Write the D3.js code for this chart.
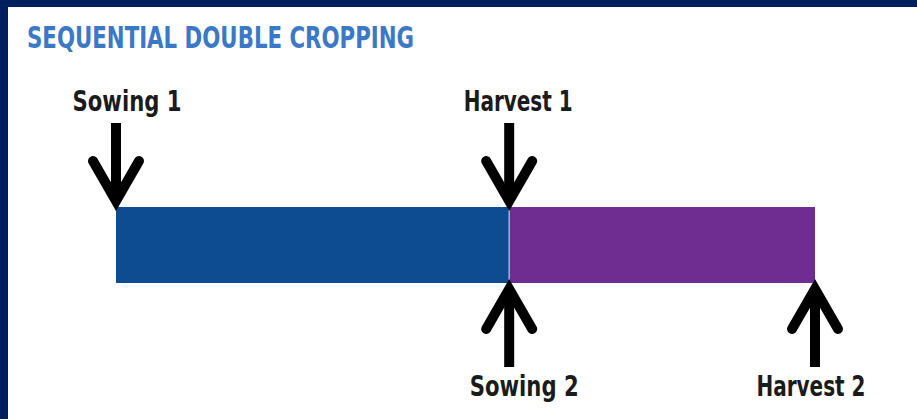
<!DOCTYPE html>
<html>
  <head>
    <meta charset="utf-8">
    <title>Sequential double cropping</title>
    <script src="https://d3js.org/d3.v7.min.js"></script>
    <style>
      body { margin: 0; background: #ffffff; }
      .label {
        font-family: "Liberation Sans Narrow", "DejaVu Sans Condensed", "Roboto", sans-serif;
        font-weight: bold;
        fill: #1b1b1b;
      }
      .title {
        font-family: "Liberation Sans Narrow", "DejaVu Sans Condensed", "Roboto", sans-serif;
        font-weight: bold;
        fill: #3b78c6;
      }
      .arrow {
        fill: none;
        stroke: #000;
        stroke-width: 10px;
      }
    </style>
  </head>
  <body>
    <script>
      // ====================================
      // data: weeks along the season
      // ====================================
      const crops = ["Crop 1", "Crop 2"];
      const cropStart = [0, 18];
      const cropEnd = [18, 32];

      const events = ["Sowing 1", "Harvest 1", "Sowing 2", "Harvest 2"];
      const eventWeek = [0, 18, 18, 32];
      const eventSide = ["top", "top", "bottom", "bottom"];

      const titleText = "SEQUENTIAL DOUBLE CROPPING";

      // styling only
      const cropColors = ["#0e4c92", "#6f2c91"];
      const labelNudge = [11, 9, 15, -4];

      const width = 917;
      const height = 419;

      const svg = d3.select("body")
        .append("svg")
          .attr("width", width)
          .attr("height", height);

      // navy frame on top and left
      svg.append("rect")
        .attr("x", 0).attr("y", 0)
        .attr("width", width).attr("height", 7)
        .attr("fill", "#001f5e");
      svg.append("rect")
        .attr("x", 0).attr("y", 0)
        .attr("width", 8).attr("height", height)
        .attr("fill", "#001f5e");

      svg.append("text")
        .classed("title", true)
        .attr("x", 27)
        .attr("y", 48)
        .attr("font-size", 30)
        .attr("textLength", 387)
        .attr("lengthAdjust", "spacingAndGlyphs")
        .text(titleText);

      const xScale = d3.scaleLinear()
        .domain([0, 32])
        .range([116, 815]);

      const barTop = 207;
      const barBottom = 283;

      svg.selectAll("rect.crop")
        .data(crops)
        .enter()
        .append("rect")
          .classed("crop", true)
          .attr("x", (d, i) => xScale(cropStart[i]))
          .attr("y", barTop)
          .attr("width", (d, i) => xScale(cropEnd[i]) - xScale(cropStart[i]))
          .attr("height", barBottom - barTop)
          .attr("fill", (d, i) => cropColors[i]);

      // thin light seam between the two bars
      svg.append("line")
        .attr("x1", xScale(cropEnd[0])).attr("x2", xScale(cropEnd[0]))
        .attr("y1", barTop).attr("y2", barBottom)
        .attr("stroke", "#9fb0d6")
        .attr("stroke-width", 1.5);

      // arrows
      const shaftLen = 80;
      const headW = 23;
      const headH = 42;

      const arrows = svg.selectAll("g.event")
        .data(events)
        .enter()
        .append("g")
          .classed("event", true)
          .attr("transform", (d, i) => "translate(" + xScale(eventWeek[i]) + ",0)");

      arrows.each(function(d, i) {
        const g = d3.select(this);
        const down = eventSide[i] === "top";
        const tip = down ? barTop - 4 : barBottom + 4;
        const dir = down ? -1 : 1; // direction from tip back to shaft end

        g.append("line")
          .classed("arrow", true)
          .attr("x1", 0).attr("x2", 0)
          .attr("y1", tip + dir * shaftLen)
          .attr("y2", tip + dir * 4);

        g.append("path")
          .classed("arrow", true)
          .attr("stroke-linecap", "round")
          .attr("stroke-linejoin", "miter")
          .attr("d", d3.line()([
            [-headW, tip + dir * headH],
            [0, tip + dir * 2],
            [headW, tip + dir * headH]
          ]));

        g.append("text")
          .classed("label", true)
          .attr("x", labelNudge[i])
          .attr("y", down ? 111 : 396)
          .attr("text-anchor", "middle")
          .attr("font-size", 28)
          .attr("textLength", 109)
          .attr("lengthAdjust", "spacingAndGlyphs")
          .text(d);
      });
    </script>
  </body>
</html>
